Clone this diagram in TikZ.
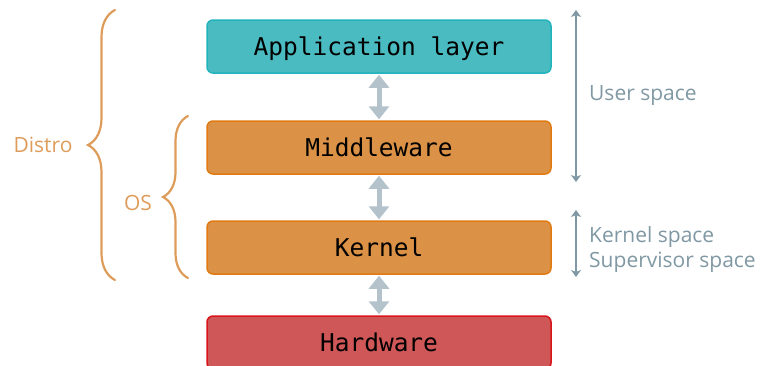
\documentclass[tikz,border=0pt]{standalone}
\usepackage{fontspec}
\setmainfont{Open Sans}
\setmonofont{DejaVu Sans Mono}
\usetikzlibrary{arrows.meta,decorations.pathreplacing}
\definecolor{appfill}{HTML}{4ABBC0}
\definecolor{appdraw}{HTML}{22B4BC}
\definecolor{osfill}{HTML}{DC9246}
\definecolor{osdraw}{HTML}{E27A12}
\definecolor{hwfill}{HTML}{CF5757}
\definecolor{hwdraw}{HTML}{D8151B}
\definecolor{linkgray}{HTML}{B4C2CC}
\definecolor{bracecol}{HTML}{DE9C5A}
\definecolor{spacecol}{HTML}{7F98A3}
\tikzset{
  layer/.style={draw, line width=1.5pt, rounded corners=6pt, minimum width=344pt,
    minimum height=53pt, inner sep=0pt, text height=18pt, text depth=0pt,
    font=\ttfamily\fontsize{24.5}{28}\selectfont},
  link/.style={draw=linkgray, line width=5pt,
    {Triangle[width=20pt,length=13pt]}-{Triangle[width=20pt,length=13pt]}, shorten <=1pt, shorten >=1pt},
  grp/.style={draw=bracecol, line width=2.2pt, line cap=round,
    decorate, decoration={brace, amplitude=#1}},
  grplabel/.style={text=bracecol, font=\fontsize{21}{24}\selectfont, inner sep=0pt},
  span/.style={draw=spacecol, line width=2.5pt,
    {Stealth[width=10pt,length=7pt,inset=2pt]}-{Stealth[width=10pt,length=7pt,inset=2pt]}},
  spacelabel/.style={text=spacecol, font=\fontsize{21}{25}\selectfont, inner sep=0pt, anchor=west, align=left}
}
\begin{document}
\begin{tikzpicture}[x=1pt,y=-1pt]
  \useasboundingbox (0,0) rectangle (762,365);
  % layer stack
  \node[layer, fill=appfill, draw=appdraw] (app) at (379,46.5) {Application layer};
  \node[layer, fill=osfill, draw=osdraw] (mid) at (379,147.5) {Middleware};
  \node[layer, fill=osfill, draw=osdraw] (ker) at (379,247.5) {Kernel};
  \node[layer, fill=hwfill, draw=hwdraw] (hw) at (379,342.5) {Hardware};
  % links between layers
  \draw[link] (app.south) -- (mid.north);
  \draw[link] (mid.south) -- (ker.north);
  \draw[link] (ker.south) -- (hw.north);
  % grouping braces
  \coordinate (dtop) at (115,10);
  \coordinate (dbot) at (115,280);
  \draw[grp=27pt] (dbot) -- (dtop);
  \node[grplabel] (distro) at (43,145) {Distro};
  \coordinate (otop) at (188,116);
  \coordinate (obot) at (188,278);
  \draw[grp=25pt] (obot) -- (otop);
  \node[grplabel] (os) at (138,203) {OS};
  % privilege spans
  \coordinate (utop) at (576,10);
  \coordinate (ubot) at (576,182);
  \draw[span] (utop) -- (ubot);
  \node[spacelabel] (user) at (589,96) {User space};
  \coordinate (ktop) at (576,210);
  \coordinate (kbot) at (576,277);
  \draw[span] (ktop) -- (kbot);
  \node[spacelabel] (kern) at (589,250) {Kernel space\\Supervisor space};
\end{tikzpicture}
\end{document}
